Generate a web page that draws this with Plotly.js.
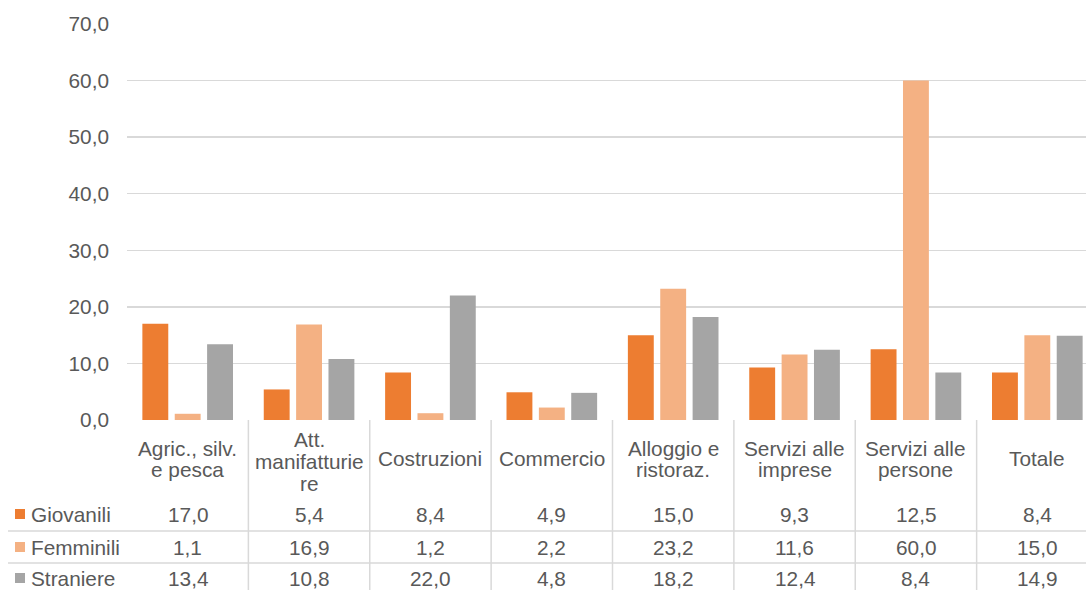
<!DOCTYPE html>
<html>
<head>
<meta charset="utf-8">
<script src="https://cdn.plot.ly/plotly-3.0.1.min.js"></script>
<style>
html, body { margin: 0; padding: 0; overflow: hidden; background: #fff; }
#chart { width: 1098px; height: 590px; }
</style>
</head>
<body>
<div id="chart"></div>
<script>
// ---- data ----
const categories = ["Agric., silv.<br>e pesca", "Att.<br>manifatturie<br>re", "Costruzioni", "Commercio", "Alloggio e<br>ristoraz.", "Servizi alle<br>imprese", "Servizi alle<br>persone", "Totale"];
const seriesNames = ["Giovanili", "Femminili", "Straniere"];
const giovanili = [17.0, 5.4, 8.4, 4.9, 15.0, 9.3, 12.5, 8.4];
const femminili = [1.1, 16.9, 1.2, 2.2, 23.2, 11.6, 60.0, 15.0];
const straniere = [13.4, 10.8, 22.0, 4.8, 18.2, 12.4, 8.4, 14.9];
const yTickVals = [0, 10, 20, 30, 40, 50, 60, 70];

// ---- style ----
const colors = ["#ED7D31", "#F4B183", "#A5A5A5"];
const textColor = "#595959";
const lineColor = "#D9D9D9";
const fontFamily = "Liberation Sans, Arial, sans-serif";
const fs = 20.8;

const W = 1098, H = 590, L = 127, R = 0, T = 24, B = 170;
const plotW = W - L - R, plotH = H - T - B;
const pyP = p => (H - B - p) / plotH;   // pixel y -> paper y
const pxP = p => (p - L) / plotW;        // pixel x -> paper x

const seriesValues = [giovanili, femminili, straniere];
const xIdx = categories.map((c, i) => i);

const traces = seriesNames.map((name, s) => ({
  type: "bar",
  name: name,
  x: xIdx,
  y: seriesValues[s],
  marker: { color: colors[s], line: { width: 0 } },
  hoverinfo: "skip"
}));

const annotations = [];
const shapes = [];

// category labels (header of table)
categories.forEach((cat, i) => {
  const lines = cat.split("<br>");
  const n = lines.length;
  const center = n === 3 ? 461.5 : 459;
  lines.forEach((ln, j) => {
    annotations.push({
      x: i, xref: "x", y: pyP(center + (j - (n - 1) / 2) * 21.8), yref: "paper",
      text: ln, showarrow: false, xanchor: "center", yanchor: "middle",
      font: { family: fontFamily, size: fs, color: textColor }
    });
  });
});

// table rows
const rowY = [514, 547, 578];
seriesNames.forEach((name, s) => {
  // legend key
  shapes.push({
    type: "rect", xref: "paper", yref: "paper",
    x0: pxP(15), x1: pxP(25), y0: pyP(rowY[s] - 5), y1: pyP(rowY[s] + 5),
    fillcolor: colors[s], line: { width: 0 }
  });
  annotations.push({
    x: pxP(29), xref: "paper", y: pyP(rowY[s]), yref: "paper",
    text: name, showarrow: false, xanchor: "left", yanchor: "middle",
    font: { family: fontFamily, size: fs, color: textColor }
  });
  seriesValues[s].forEach((v, i) => {
    annotations.push({
      x: i, xref: "x", y: pyP(rowY[s]), yref: "paper",
      text: v.toFixed(1).replace(".", ","), showarrow: false,
      xanchor: "center", yanchor: "middle",
      font: { family: fontFamily, size: fs, color: textColor }
    });
  });
});

// table grid lines
for (let k = 0; k < categories.length; k++) {
  shapes.push({
    type: "line", xref: "x", yref: "paper",
    x0: k + 0.5, x1: k + 0.5, y0: 0, y1: pyP(H + 2),
    line: { color: lineColor, width: 1.5 }
  });
}
[531, 563].forEach(p => {
  shapes.push({
    type: "line", xref: "paper", yref: "paper",
    x0: pxP(8), x1: 1, y0: pyP(p), y1: pyP(p),
    line: { color: lineColor, width: 1.5 }
  });
});

const layout = {
  width: W, height: H,
  margin: { l: L, r: R, t: T, b: B, pad: 0 },
  paper_bgcolor: "#ffffff",
  plot_bgcolor: "#ffffff",
  separators: ",.",
  showlegend: false,
  barmode: "group",
  bargap: 0.2,
  bargroupgap: 0.2,
  font: { family: fontFamily, size: fs, color: textColor },
  xaxis: {
    type: "linear",
    range: [-0.5, categories.length - 0.5],
    showticklabels: false,
    showgrid: false,
    zeroline: false,
    showline: false,
    ticks: "",
    fixedrange: true
  },
  yaxis: {
    range: [0, 70],
    tickvals: yTickVals,
    tickformat: ".1f",
    showgrid: true,
    gridcolor: lineColor,
    gridwidth: 1.5,
    zeroline: false,
    showline: false,
    ticks: "",
    ticklabelstandoff: 17,
    tickfont: { family: fontFamily, size: fs, color: textColor },
    fixedrange: true
  },
  shapes: shapes,
  annotations: annotations
};

Plotly.newPlot("chart", traces, layout, { displayModeBar: false, staticPlot: true });
</script>
</body>
</html>
